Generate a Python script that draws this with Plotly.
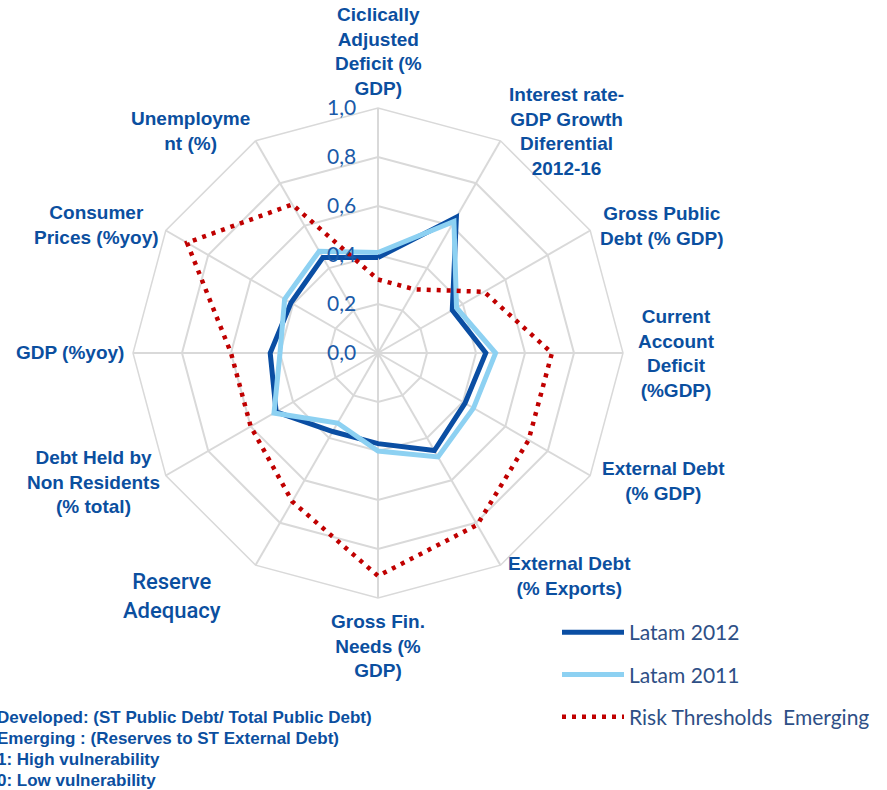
import plotly.graph_objects as go

# ---------------- data ----------------
categories = [
    "Ciclically Adjusted Deficit (% GDP)",
    "Interest rate-GDP Growth Diferential 2012-16",
    "Gross Public Debt (% GDP)",
    "Current Account Deficit (%GDP)",
    "External Debt (% GDP)",
    "External Debt (% Exports)",
    "Gross Fin. Needs (% GDP)",
    "Reserve Adequacy",
    "Debt Held by Non Residents (% total)",
    "GDP (%yoy)",
    "Consumer Prices (%yoy)",
    "Unemployment (%)",
]
category_labels = [
    "Ciclically<br>Adjusted<br>Deficit (%<br>GDP)",
    "Interest rate-<br>GDP Growth<br>Diferential<br>2012-16",
    "Gross Public<br>Debt (% GDP)",
    "Current<br>Account<br>Deficit<br>(%GDP)",
    "External Debt<br>(% GDP)",
    "External Debt<br>(% Exports)",
    "Gross Fin.<br>Needs (%<br>GDP)",
    "Reserve<br>Adequacy",
    "Debt Held by<br>Non Residents<br>(% total)",
    "GDP (%yoy)",
    "Consumer<br>Prices (%yoy)",
    "Unemployme<br>nt (%)",
]
latam_2012 = [0.39, 0.64, 0.35, 0.44, 0.41, 0.46, 0.37, 0.37, 0.48, 0.44, 0.41, 0.45]
latam_2011 = [0.41, 0.62, 0.37, 0.48, 0.45, 0.49, 0.40, 0.33, 0.49, 0.40, 0.44, 0.48]
risk_emerging = [0.30, 0.30, 0.50, 0.71, 0.71, 0.81, 0.91, 0.70, 0.60, 0.60, 0.90, 0.70]
radial_ticks = [0.0, 0.2, 0.4, 0.6, 0.8, 1.0]
radial_tick_labels = ["0,0", "0,2", "0,4", "0,6", "0,8", "1,0"]
notes = [
    "Developed: (ST Public Debt/ Total Public Debt)",
    "Emerging : (Reserves to ST External Debt)",
    "1: High vulnerability",
    "0: Low vulnerability",
]
source_text = "Source: BBVA Research"

# ---------------- layout constants ----------------
W, H = 887, 790
TEXT_BLUE = "#0b4f9f"
LABEL_FONT = "Liberation Sans, Arial, sans-serif"
# label centre positions in pixels (x, y)
label_pos = [
    (378, 51), (566, 131), (662, 226), (676, 354), (663, 481), (569, 576),
    (378, 646), (172, 596), (93, 482), (70, 353), (96, 225), (190, 131),
]


def px(x):
    return x / W


def py(y):
    return 1 - y / H


closed = lambda v: v + [v[0]]
theta = closed(categories)

fig = go.Figure()
fig.add_trace(go.Scatterpolar(
    r=closed(latam_2012), theta=theta, mode="lines", name="Latam 2012",
    line=dict(color="#0a4ea3", width=5), legendgroup="a",
))
fig.add_trace(go.Scatterpolar(
    r=closed(latam_2011), theta=theta, mode="lines", name="Latam 2011",
    line=dict(color="#8dd1f2", width=5), legendgroup="b",
))
fig.add_trace(go.Scatterpolar(
    r=closed(risk_emerging), theta=theta, mode="lines", name="Risk Thresholds  Emerging",
    line=dict(color="#c00000", width=4.5, dash="4px,6px"), legendgroup="c",
))

annotations = []
for i, (lab, (x, y)) in enumerate(zip(category_labels, label_pos)):
    if categories[i] == "Reserve Adequacy":
        font = dict(family="Roboto, sans-serif", size=22, color=TEXT_BLUE, weight=500)
        text = lab
    else:
        font = dict(family=LABEL_FONT, size=19, color=TEXT_BLUE)
        text = "<b>" + lab + "</b>"
    annotations.append(dict(
        x=px(x), y=py(y), xref="paper", yref="paper", text=text, showarrow=False,
        xanchor="center", yanchor="middle", align="center", font=font,
    ))

for i, n in enumerate(notes):
    annotations.append(dict(
        x=px(-5), y=py(717 + i * 21.3), xref="paper", yref="paper", text="<b>" + n + "</b>",
        showarrow=False, xanchor="left", yanchor="middle", align="left",
        font=dict(family=LABEL_FONT, size=17, color=TEXT_BLUE),
    ))
annotations.append(dict(
    x=px(-20), y=py(-5), xref="paper", yref="paper", text="<b>" + source_text + "</b>",
    showarrow=False, xanchor="left", yanchor="middle",
    font=dict(family=LABEL_FONT, size=17, color=TEXT_BLUE),
))

fig.update_layout(
    width=W, height=H,
    margin=dict(l=0, r=0, t=0, b=0, pad=0, autoexpand=False),
    paper_bgcolor="white", plot_bgcolor="white",
    polar=dict(
        domain=dict(x=[px(133), px(623)], y=[py(598), py(108)]),
        bgcolor="white",
        gridshape="linear",
        angularaxis=dict(
            direction="clockwise", rotation=90, showticklabels=False, ticks="",
            showline=True, linecolor="#d9d9d9", linewidth=1.5,
            gridcolor="#d9d9d9", gridwidth=1.5,
        ),
        radialaxis=dict(
            range=[0, 1], angle=90, tickangle=90, tickvals=radial_ticks, ticktext=radial_tick_labels,
            showline=False, ticks="outside", ticklen=14, tickcolor="rgba(0,0,0,0)",
            side="counterclockwise",
            gridcolor="#d9d9d9", gridwidth=1.5,
            tickfont=dict(family="Lato, Open Sans, sans-serif", size=21, color="#1a5aa8"),
        ),
    ),
    showlegend=True,
    legend=dict(
        x=px(557), y=py(612), xanchor="left", yanchor="top",
        bgcolor="rgba(0,0,0,0)", traceorder="grouped", tracegroupgap=12,
        itemwidth=62,
        font=dict(family="Lato, Open Sans, sans-serif", size=21, color="#2e4f86"),
    ),
    annotations=annotations,
)

fig.write_html(
    "out.html",
    config={"displayModeBar": False},
    post_script="document.body.style.margin='0';document.body.style.overflow='hidden';",
)
